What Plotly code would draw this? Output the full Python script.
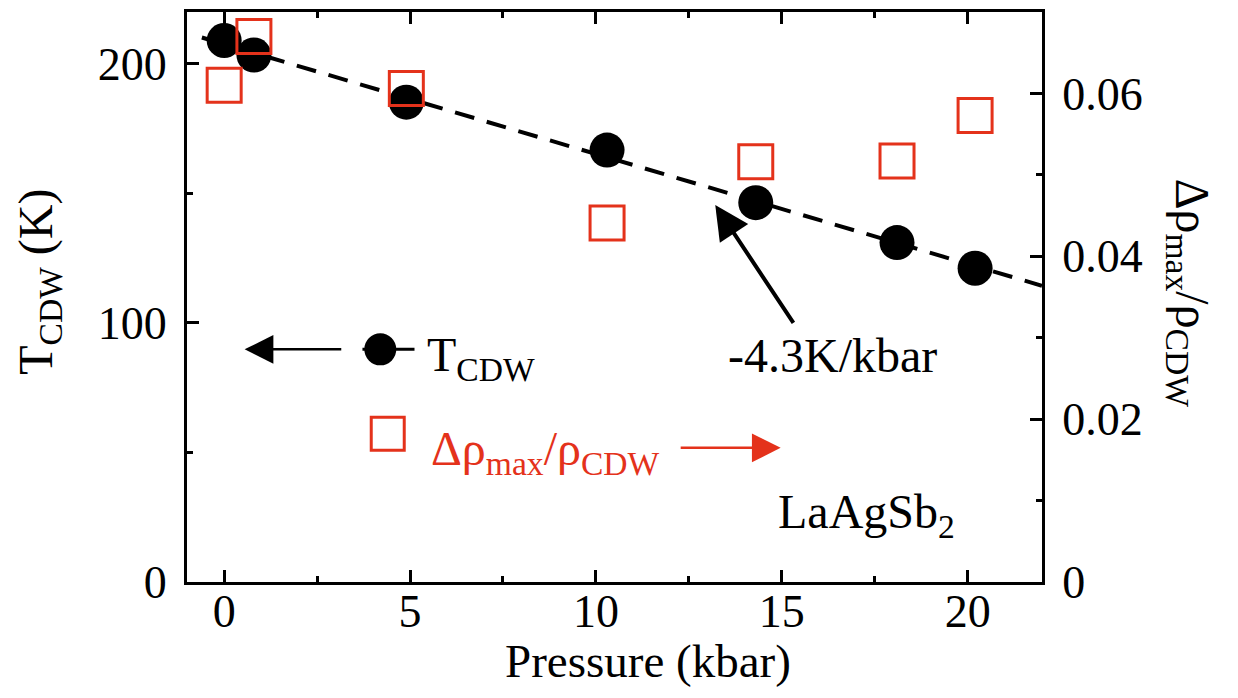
import plotly.graph_objects as go

# ---- data ----
pressure_T = [0.0, 0.8, 4.9, 10.3, 14.3, 18.1, 20.2]          # kbar
T_cdw = [209.0, 203.4, 185.2, 166.7, 146.4, 131.0, 121.1]     # K

pressure_rho = [0.0, 0.8, 4.9, 10.3, 14.3, 18.1, 20.2]        # kbar
drho_ratio = [0.0610, 0.0670, 0.0606, 0.0441, 0.0516, 0.0517, 0.0573]

fit_intercept = 207.6      # K
fit_slope = -4.24          # K/kbar
fit_p = [-0.6, 22.0]
fit_T = [fit_intercept + fit_slope * p for p in fit_p]

x_ticks = [0, 5, 10, 15, 20]
y_ticks = [0, 100, 200]
y2_ticks = [0, 0.02, 0.04, 0.06]
y2_labels = ["0", "0.02", "0.04", "0.06"]

RED = "#e4321b"
FONT = "Liberation Serif, Times New Roman, serif"

fig = go.Figure()

# dashed linear fit
fig.add_trace(go.Scatter(x=fit_p, y=fit_T, mode="lines",
                         line=dict(color="black", width=4, dash="20px,13px"),
                         hoverinfo="skip", showlegend=False))
# T_CDW points
fig.add_trace(go.Scatter(x=pressure_T, y=T_cdw, mode="markers",
                         marker=dict(symbol="circle", size=35, color="black"),
                         showlegend=False))
# delta rho / rho points (right axis)
fig.add_trace(go.Scatter(x=pressure_rho, y=drho_ratio, mode="markers", yaxis="y2",
                         marker=dict(symbol="square-open", size=34,
                                     line=dict(color=RED, width=3), color=RED),
                         showlegend=False))

# in-plot legend samples
fig.add_trace(go.Scatter(x=[3.72, 5.12], y=[89.8, 89.8], mode="lines",
                         line=dict(color="black", width=3),
                         hoverinfo="skip", showlegend=False))
fig.add_trace(go.Scatter(x=[4.2], y=[89.8], mode="markers",
                         marker=dict(symbol="circle", size=32, color="black"),
                         hoverinfo="skip", showlegend=False))
fig.add_trace(go.Scatter(x=[4.4], y=[57.2], mode="markers",
                         marker=dict(symbol="square-open", size=33,
                                     line=dict(color=RED, width=3), color=RED),
                         hoverinfo="skip", showlegend=False))

tickfont = dict(family=FONT, size=46, color="black")
common = dict(showline=True, linecolor="black", linewidth=3,
              ticks="inside", ticklen=12, tickwidth=3, tickcolor="black",
              showgrid=False, zeroline=False, tickfont=tickfont)

fig.update_layout(
    width=1238, height=698,
    margin=dict(l=187, r=196, t=9, b=116),
    paper_bgcolor="white", plot_bgcolor="white",
    font=dict(family=FONT, color="black"),
    xaxis=dict(range=[-1, 22], tickvals=x_ticks, mirror="ticks",
               minor=dict(ticks="inside", ticklen=6, tickwidth=3, dtick=2.5,
                          tick0=0, tickcolor="black"),
               ticklabelstandoff=-13, **common),
    yaxis=dict(range=[0, 220], tickvals=y_ticks,
               minor=dict(ticks="inside", ticklen=6, tickwidth=3, dtick=50,
                          tick0=0, tickcolor="black"),
               ticklabelstandoff=8, **common),
    yaxis2=dict(range=[0, 0.07], tickvals=y2_ticks, overlaying="y", side="right",
                ticktext=y2_labels,
                minor=dict(ticks="inside", ticklen=6, tickwidth=3, dtick=0.01,
                           tick0=0, tickcolor="black"),
                ticklabelstandoff=8, **common),
)

ann_font = dict(family=FONT, size=48, color="black")
annotations = [
    # axis titles
    dict(text="Pressure (kbar)", x=11.41, xref="x", y=-0.138, yref="paper",
         showarrow=False, xanchor="center", yanchor="middle",
         font=dict(family=FONT, size=47, color="black")),
    dict(text="T<sub>CDW</sub> (K)", x=-0.174, xref="paper", y=0.527, yref="paper",
         showarrow=False, textangle=-90, xanchor="center", yanchor="middle",
         font=ann_font),
    dict(text="Δρ<sub>max</sub>/ρ<sub>CDW</sub>", x=1.173, xref="paper", y=0.506,
         yref="paper", showarrow=False, textangle=90, xanchor="center",
         yanchor="middle", font=ann_font),
    # labels
    dict(text="T<sub>CDW</sub>", x=5.39, y=86.5, xref="x", yref="y", showarrow=False,
         xanchor="left", yanchor="middle", font=ann_font),
    dict(text="Δρ<sub>max</sub>/ρ<sub>CDW</sub>", x=5.52, y=50.0, xref="x", yref="y",
         showarrow=False, xanchor="left", yanchor="middle",
         font=dict(family=FONT, size=48, color=RED)),
    dict(text="-4.3K/kbar", x=16.37, y=87.5, xref="x", yref="y", showarrow=False,
         xanchor="center", yanchor="middle", font=ann_font),
    dict(text="LaAgSb<sub>2</sub>", x=14.85, y=26.0, xref="x", yref="y",
         showarrow=False, xanchor="left", yanchor="middle", font=ann_font),
    # arrows
    dict(text="", x=0.55, y=89.8, ax=3.19, ay=89.8, xref="x", yref="y",
         axref="x", ayref="y", showarrow=True, arrowhead=2, arrowsize=2.3,
         arrowwidth=2.5, arrowcolor="black", standoff=0, startstandoff=0),
    dict(text="", x=14.97, y=51.8, ax=12.24, ay=51.8, xref="x", yref="y",
         axref="x", ayref="y", showarrow=True, arrowhead=2, arrowsize=2.3,
         arrowwidth=2.5, arrowcolor=RED, standoff=0, startstandoff=0),
    dict(text="", x=13.21, y=145.5, ax=15.34, ay=99.4, xref="x", yref="y",
         axref="x", ayref="y", showarrow=True, arrowhead=2, arrowsize=1.7,
         arrowwidth=4, arrowcolor="black", standoff=0, startstandoff=0),
]
fig.update_layout(annotations=annotations)

fig.write_html("out.html")
